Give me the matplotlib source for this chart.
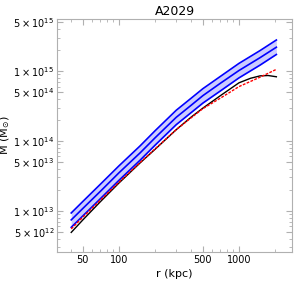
import numpy as np
import matplotlib
matplotlib.use("Agg")
import matplotlib.pyplot as plt
from matplotlib.ticker import FixedLocator, NullFormatter

plt.rcParams['font.family'] = ['DejaVu Sans']
plt.rcParams['mathtext.default'] = 'regular'

# radius in kpc
r = [40, 50, 70, 100, 150, 200, 300, 400, 500, 700, 1000, 1500, 2050]
band_hi = [9.3e12, 1.36e13, 2.4e13, 4.4e13, 8.5e13, 1.4e14, 2.75e14, 4.1e14, 5.6e14, 8.4e14, 1.29e15, 1.97e15, 2.79e15]
band_mid = [7.4e12, 1.08e13, 1.9e13, 3.5e13, 6.75e13, 1.11e14, 2.18e14, 3.25e14, 4.45e14, 6.7e14, 1.02e15, 1.56e15, 2.2e15]
band_lo = [5.8e12, 8.45e12, 1.49e13, 2.73e13, 5.3e13, 8.7e13, 1.71e14, 2.55e14, 3.48e14, 5.2e14, 8.0e14, 1.22e15, 1.73e15]
m_red = [5.5e12, 8.1e12, 1.42e13, 2.57e13, 4.9e13, 7.7e13, 1.45e14, 2.15e14, 2.9e14, 4.1e14, 6.0e14, 8.2e14, 1.06e15]

r_black = [40, 50, 70, 100, 150, 200, 300, 400, 500, 700, 1000, 1250, 1500, 1750, 2050]
m_black = [4.9e12, 7.4e12, 1.35e13, 2.5e13, 4.85e13, 7.6e13, 1.45e14, 2.2e14, 2.95e14, 4.45e14, 6.8e14, 7.9e14, 8.55e14, 8.65e14, 8.3e14]

xticks = [50, 100, 500, 1000]
yticks = [5e12, 1e13, 5e13, 1e14, 5e14, 1e15, 5e15]
ylabels = [r'$5\times10^{12}$', r'$1\times10^{13}$', r'$5\times10^{13}$', r'$1\times10^{14}$',
           r'$5\times10^{14}$', r'$1\times10^{15}$', r'$5\times10^{15}$']

fig = plt.figure(figsize=(2.95, 2.86), dpi=100)
ax = fig.add_axes([0.193, 0.119, 0.797, 0.815])

ax.fill_between(r, band_lo, band_hi, color='#ccccff', lw=0)
ax.plot(r, band_hi, color='#0000ff', lw=1.2)
ax.plot(r, band_mid, color='#0000ff', lw=1.2)
ax.plot(r, band_lo, color='#0000ff', lw=1.2)
ax.plot(r_black, m_black, color='black', lw=1.0)
ax.plot(r, m_red, color='red', lw=1.0, ls=(0, (2, 1)))

ax.set_xscale('log')
ax.set_yscale('log')
ax.set_xlim(30.4, 2770)
ax.set_ylim(2.57e12, 5.6e15)

ax.xaxis.set_major_locator(FixedLocator(xticks))
ax.set_xticklabels([str(t) for t in xticks])
ax.xaxis.set_minor_locator(FixedLocator([30, 40, 60, 70, 80, 90, 200, 300, 400, 600, 700, 800, 900, 2000]))
ax.xaxis.set_minor_formatter(NullFormatter())
ax.yaxis.set_major_locator(FixedLocator(yticks))
ax.set_yticklabels(ylabels)
ymin = []
for e in [12, 13, 14, 15]:
    for k in range(2, 10):
        if k != 5:
            ymin.append(k * 10.0 ** e)
ax.yaxis.set_minor_locator(FixedLocator(ymin))
ax.yaxis.set_minor_formatter(NullFormatter())

for s in ax.spines.values():
    s.set_color('#b0b0b0')
    s.set_linewidth(0.8)
ax.tick_params(which='both', direction='in', top=True, right=True, color='#b0b0b0', labelsize=7, pad=2)
ax.tick_params(which='major', length=4)
ax.tick_params(which='minor', length=2)

ax.set_xlabel('r (kpc)', fontsize=8, labelpad=3)
ax.set_ylabel(r'M ($M_{\odot}$)', fontsize=8)
ax.yaxis.set_label_coords(-0.19, 0.5)
ax.set_title('A2029', fontsize=9, pad=3)

fig.savefig('out.png', dpi=100)
